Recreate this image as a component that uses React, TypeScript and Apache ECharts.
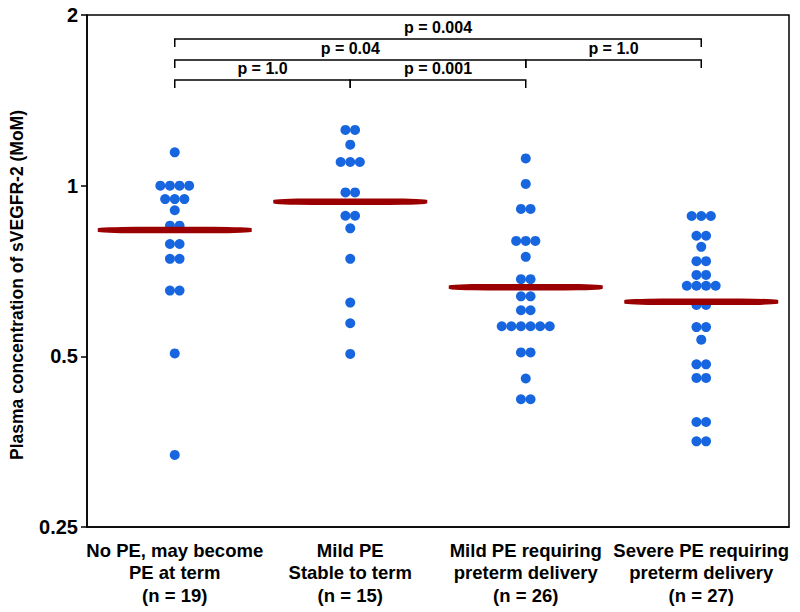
import React, { useEffect, useRef } from "react";
import * as echarts from "echarts";

const categories = [
  "No PE, may become\nPE at term\n(n = 19)",
  "Mild PE\nStable to term\n(n = 15)",
  "Mild PE requiring\npreterm delivery\n(n = 26)",
  "Severe PE requiring\npreterm delivery\n(n = 27)",
];

const noPE = [1.145, 1.0, 1.0, 1.0, 1.0, 0.947, 0.947, 0.947, 0.905, 0.85, 0.85, 0.789, 0.789, 0.743, 0.743, 0.653, 0.653, 0.506, 0.335];
const mildStable = [1.254, 1.254, 1.181, 1.101, 1.101, 1.101, 0.973, 0.973, 0.885, 0.885, 0.841, 0.743, 0.622, 0.572, 0.505];
const mildPreterm = [1.117, 1.007, 0.91, 0.91, 0.799, 0.799, 0.799, 0.749, 0.684, 0.684, 0.638, 0.638, 0.603, 0.603, 0.565, 0.565, 0.565, 0.565, 0.565, 0.565, 0.508, 0.508, 0.457, 0.42, 0.42];
const severePreterm = [0.884, 0.884, 0.884, 0.816, 0.816, 0.78, 0.736, 0.736, 0.696, 0.696, 0.666, 0.666, 0.666, 0.666, 0.616, 0.616, 0.563, 0.563, 0.535, 0.484, 0.484, 0.458, 0.458, 0.383, 0.383, 0.354, 0.354];
const groups = [noPE, mildStable, mildPreterm, severePreterm];

const medians = [0.835, 0.937, 0.662, 0.624];

const bracketFrom = [0, 0, 2, 0, 1];
const bracketTo = [3, 2, 3, 1, 2];
const bracketLevel = [1.814, 1.666, 1.666, 1.536, 1.536];
const pLabels = ["p = 0.004", "p = 0.04", "p = 1.0", "p = 1.0", "p = 0.001"];

const yTicks = [0.25, 0.5, 1, 2];

const FONT = "'Liberation Sans', Arial, Helvetica, sans-serif";

export default function App() {
  const ref = useRef<HTMLDivElement>(null);
  useEffect(() => {
    if (!ref.current) return;
    const chart = echarts.init(ref.current, undefined, { renderer: "svg" });

    // beeswarm: spread identical values horizontally
    const dotData: any[] = [];
    const spacing = 9.6;
    groups.forEach((vals, gi) => {
      const counts: Record<string, number> = {};
      vals.forEach((v) => (counts[String(v)] = (counts[String(v)] || 0) + 1));
      const seen: Record<string, number> = {};
      vals.forEach((v) => {
        const k = String(v);
        const n = counts[k];
        const i = seen[k] || 0;
        seen[k] = i + 1;
        dotData.push({ value: [gi, v], symbolOffset: [(i - (n - 1) / 2) * spacing, 0] });
      });
    });

    const bracketData = bracketFrom.map((f, i) => [f, bracketTo[i], bracketLevel[i]]);

    chart.setOption({
      animation: false,
      grid: {
        left: 87,
        right: 11,
        top: 15,
        bottom: 85,
        show: true,
        borderColor: "#000",
        borderWidth: 1.5,
        containLabel: false,
      },
      xAxis: {
        type: "category",
        data: categories,
        axisLine: { lineStyle: { color: "#000", width: 1.5 } },
        axisTick: { alignWithLabel: true, length: 6, lineStyle: { color: "#000", width: 1.5 } },
        axisLabel: {
          interval: 0,
          color: "#000",
          fontFamily: FONT,
          fontWeight: "bold",
          fontSize: 18.5,
          lineHeight: 22.5,
          margin: 12,
        },
        splitLine: { show: false },
      },
      yAxis: {
        type: "log",
        logBase: 2,
        min: yTicks[0],
        max: yTicks[yTicks.length - 1],
        axisLine: { show: true, lineStyle: { color: "#000", width: 1.5 } },
        axisTick: { show: true, length: 6, lineStyle: { color: "#000", width: 1.5 } },
        minorTick: { show: false },
        splitLine: { show: false },
        axisLabel: {
          color: "#000",
          fontFamily: FONT,
          fontWeight: "bold",
          fontSize: 20,
          margin: 9,
          formatter: (v: number) => String(Math.round(v * 100) / 100),
        },
      },
      graphic: [
        {
          type: "text",
          x: 17,
          y: 285,
          rotation: Math.PI / 2,
          style: {
            text: "Plasma concentration of sVEGFR-2 (MoM)",
            align: "center",
            verticalAlign: "middle",
            fontFamily: FONT,
            fontWeight: "bold",
            fontSize: 17.5,
            fill: "#000",
          },
        },
      ],
      series: [
        {
          type: "scatter",
          data: dotData,
          symbol: "circle",
          symbolSize: 10,
          itemStyle: { color: "#1766e0", opacity: 1 },
          z: 2,
        },
        {
          type: "scatter",
          data: medians.map((m, i) => [i, m]),
          symbol: "roundRect",
          symbolSize: [154, 6.5],
          itemStyle: { color: "#9b0000", opacity: 1 },
          z: 3,
        },
        {
          type: "custom",
          data: bracketData,
          encode: { x: [0, 1], y: 2 },
          z: 4,
          renderItem: (params: any, api: any) => {
            const a = api.coord([api.value(0), api.value(2)]);
            const b = api.coord([api.value(1), api.value(2)]);
            const tick = 8;
            return {
              type: "group",
              children: [
                {
                  type: "polyline",
                  shape: {
                    points: [
                      [a[0], a[1] + tick],
                      [a[0], a[1]],
                      [b[0], b[1]],
                      [b[0], b[1] + tick],
                    ],
                  },
                  style: { stroke: "#000", lineWidth: 1.5, fill: "none" },
                },
                {
                  type: "text",
                  x: (a[0] + b[0]) / 2,
                  y: a[1] - 11.5,
                  style: {
                    text: pLabels[params.dataIndex],
                    align: "center",
                    verticalAlign: "middle",
                    fontFamily: FONT,
                    fontWeight: "bold",
                    fontSize: 16,
                    fill: "#000",
                  },
                },
              ],
            };
          },
        },
      ],
    });
    return () => chart.dispose();
  }, []);
  return (
    <div
      ref={ref}
      style={{ position: "absolute", left: 0, top: 0, width: 800, height: 612, background: "#fff" }}
    />
  );
}
